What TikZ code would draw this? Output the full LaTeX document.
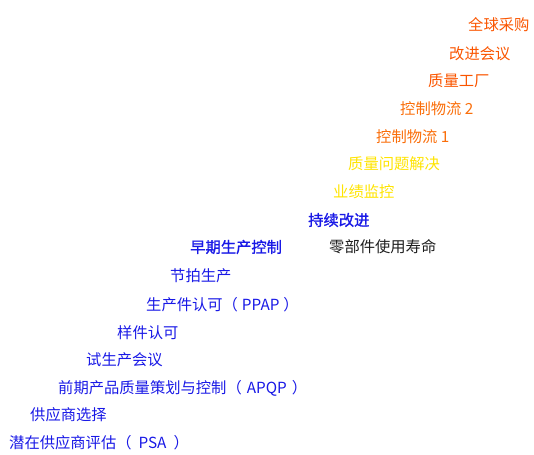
\documentclass[tikz,border=0pt]{standalone}
\usepackage{fontspec}
\setmainfont{Noto Sans CJK SC}
\newfontfamily\semibf[FakeBold=1.2]{Noto Sans CJK SC}
\newcommand\parengap[2]{（\hspace{#1}#2\hspace{#1}）}
\definecolor{orgA}{RGB}{250,85,0}
\definecolor{orgB}{RGB}{250,110,10}
\definecolor{yel}{RGB}{255,228,0}
\definecolor{blu}{RGB}{25,25,230}
\definecolor{blk}{RGB}{30,30,30}
\tikzset{
  lbl/.style={anchor=west,inner sep=0pt,font=\fontsize{15.3pt}{17pt}\selectfont},
  oa/.style={lbl,text=orgA},
  ob/.style={lbl,text=orgB},
  ye/.style={lbl,text=yel},
  bl/.style={lbl,text=blu},
  bb/.style={lbl,text=blu,font=\fontsize{15.3pt}{17pt}\semibf},
  bk/.style={lbl,text=blk}
}
\begin{document}
\begin{tikzpicture}[x=1pt,y=-1pt]
\useasboundingbox (0,0) rectangle (534,454);
\node[oa] (n1) at (468,25) {全球采购};
\node[oa] (n2) at (449,54) {改进会议};
\node[oa] (n3) at (428,81) {质量工厂};
\node[ob] (n4) at (400,109) {控制物流 2};
\node[ob] (n5) at (376,137) {控制物流 1};
\node[ye] (n6) at (348,164) {质量问题解决};
\node[ye] (n7) at (333,192) {业绩监控};
\node[bb] (n8) at (308,220) {持续改进};
\node[bb] (n9) at (190,247) {早期生产控制};
\node[bk] (n10) at (329,247) {零部件使用寿命};
\node[bl] (n11) at (170,276) {节拍生产};
\node[bl] (n12) at (146,305) {生产件认可\parengap{4pt}{PPAP}};
\node[bl] (n13) at (117,333) {样件认可};
\node[bl] (n14) at (86,360) {试生产会议};
\node[bl] (n15) at (58,388) {前期产品质量策划与控制\parengap{5pt}{APQP}};
\node[bl] (n16) at (30,415) {供应商选择};
\node[bl] (n17) at (9,443) {潜在供应商评估\parengap{7pt}{PSA}};
\end{tikzpicture}
\end{document}
